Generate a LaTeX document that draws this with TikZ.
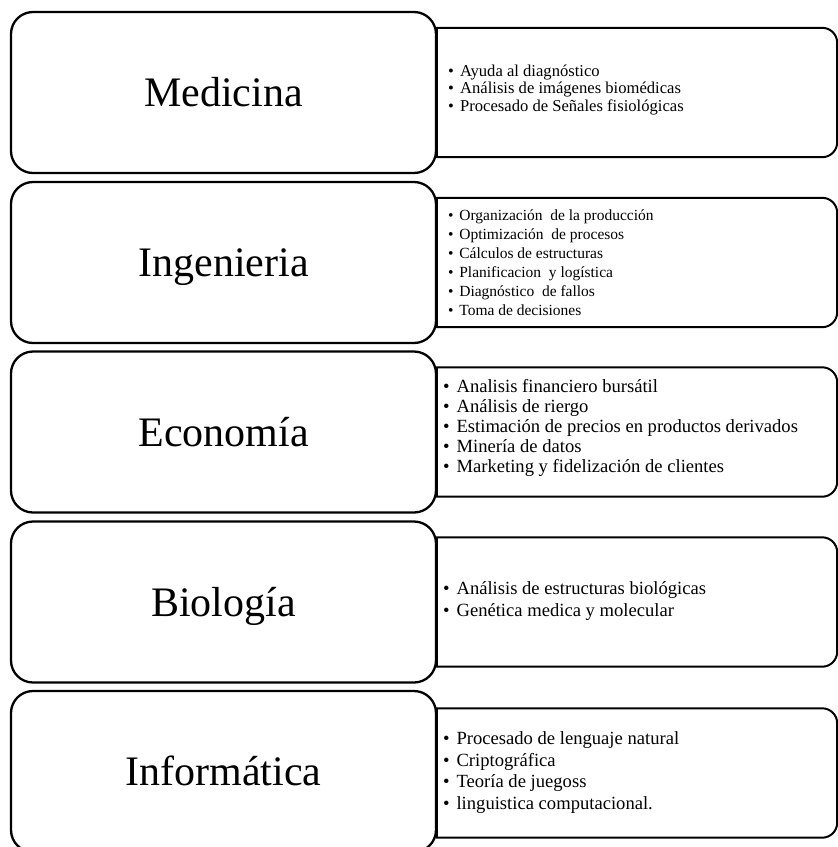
\documentclass[tikz,border=0pt]{standalone}
\usepackage{fontspec}
\setmainfont{Liberation Serif}
% bullet followed by a fixed gap, used for every list entry
\newcommand\bul{\makebox[0.72em][l]{\textbullet}}
% outline of a list panel: square on the left, rounded on the right
\newcommand\panelout[1]{%
  \draw[panelline] (#1.north west) -- ([xshift=-15pt]#1.north east)
    arc[start angle=90,end angle=0,radius=15pt]
    -- ([yshift=15pt]#1.south east)
    arc[start angle=0,end angle=-90,radius=15pt]
    -- (#1.south west) -- cycle;}
\begin{document}
\begin{tikzpicture}[x=1pt,y=-1pt,
  area/.style={draw, line width=2.3pt, rounded corners=22pt, fill=white,
    minimum width=425pt, minimum height=161pt, inner sep=0pt},
  areaname/.style={anchor=base, inner sep=0pt, font=\fontsize{42}{48}\selectfont},
  panel/.style={minimum width=400pt, minimum height=129pt, inner sep=0pt},
  panelline/.style={line width=2pt},
  listtext/.style={anchor=west, align=left, inner sep=0pt}
]
\useasboundingbox[fill=white] (0,0) rectangle (838,847);

% ---------- Medicina ----------
\node[panel] (medP) at (637,92.5) {};
\panelout{medP}
\node[area] (med) at (223.5,92.5) {};
\node[areaname] (medN) at (223.5,106.5) {Medicina};
\node[listtext, font=\fontsize{16.6}{17.5}\selectfont] (medL) at (448,90)
  {\bul Ayuda al diagnóstico\\ \bul Análisis de imágenes biomédicas\\ \bul Procesado de Señales fisiológicas};

% ---------- Ingenieria ----------
\node[panel] (ingP) at (637,262.5) {};
\panelout{ingP}
\node[area] (ing) at (223.5,262.5) {};
\node[areaname] (ingN) at (223.5,276.5) {Ingenieria};
\node[listtext, font=\fontsize{15.5}{19}\selectfont] (ingL) at (448,263)
  {\bul Organización\ \ de la producción\\ \bul Optimización\ \ de procesos\\
   \bul Cálculos de estructuras\\ \bul Planificacion\ \ y logística\\
   \bul Diagnóstico\ \ de fallos\\ \bul Toma de decisiones};

% ---------- Economía ----------
\node[panel] (ecoP) at (637,432) {};
\panelout{ecoP}
\node[area] (eco) at (223.5,432) {};
\node[areaname] (ecoN) at (223.5,446) {Economía};
\node[listtext, font=\fontsize{18.6}{20}\selectfont] (ecoL) at (443,428)
  {\bul Analisis financiero bursátil\\ \bul Análisis de riergo\\
   \bul Estimación de precios en productos derivados\\ \bul Minería de datos\\
   \bul Marketing y fidelización de clientes};

% ---------- Biología ----------
\node[panel] (bioP) at (637,602) {};
\panelout{bioP}
\node[area] (bio) at (223.5,602) {};
\node[areaname] (bioN) at (223.5,616) {Biología};
\node[listtext, font=\fontsize{18.6}{22}\selectfont] (bioL) at (443,601)
  {\bul Análisis de estructuras biológicas\\ \bul Genética medica y molecular};

% ---------- Informática ----------
\node[panel] (infP) at (637,773) {};
\panelout{infP}
\node[area] (inf) at (223.5,771.5) {};
\node[areaname] (infN) at (223.5,785.5) {Informática};
\node[listtext, font=\fontsize{18.6}{21.7}\selectfont] (infL) at (443,772.5)
  {\bul Procesado de lenguaje natural\\ \bul Criptográfica\\
   \bul Teoría de juegoss\\ \bul linguistica computacional.};
\end{tikzpicture}
\end{document}
